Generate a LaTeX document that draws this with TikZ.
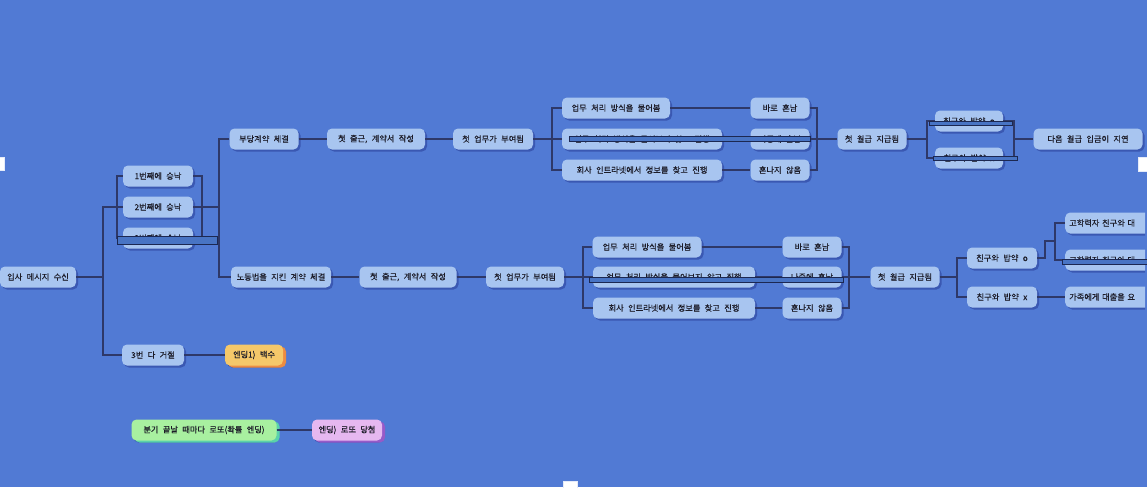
\documentclass[tikz,border=0pt]{standalone}
\usepackage{fontspec}
\newfontfamily\kr[WordSpace=2.4, FakeBold=0.35]{Noto Sans CJK KR}
\usetikzlibrary{shadows}
\definecolor{bg}{RGB}{81,122,212}
\definecolor{nodec}{RGB}{168,197,240}
\definecolor{shd}{RGB}{58,88,178}
\definecolor{linec}{RGB}{46,56,104}
\definecolor{txt}{RGB}{28,28,40}
\definecolor{barc}{RGB}{72,116,196}
\definecolor{barline}{RGB}{28,40,82}
\definecolor{endy}{RGB}{245,200,106}
\definecolor{endyshd}{RGB}{236,140,66}
\definecolor{endg}{RGB}{168,240,160}
\definecolor{endgshd}{RGB}{90,210,170}
\definecolor{endp}{RGB}{230,184,240}
\definecolor{endpshd}{RGB}{150,90,200}
\tikzset{
  box/.style={fill=nodec, rounded corners=5pt, minimum height=21pt, inner sep=0pt, text=txt,
    drop shadow={shadow xshift=2pt, shadow yshift=-2pt, fill=shd, opacity=1}},
  ybox/.style={box, fill=endy, drop shadow={shadow xshift=3pt, shadow yshift=-2pt, fill=endyshd, opacity=1}},
  gbox/.style={box, fill=endg, drop shadow={shadow xshift=3pt, shadow yshift=-2pt, fill=endgshd, opacity=1}},
  pbox/.style={box, fill=endp, drop shadow={shadow xshift=3pt, shadow yshift=-2pt, fill=endpshd, opacity=1}},
  cutbox/.style={box, anchor=west, text width=110pt, align=left, inner xsep=4pt},
  conn/.style={draw=linec, line width=1.4pt},
  selbar/.style={fill=barc, draw=barline, line width=0.9pt},
  handle/.style={fill=white, draw=white!85!bg, line width=0.8pt}
}
\begin{document}
\begin{tikzpicture}[x=1pt,y=-1pt, font=\kr\fontsize{8.2}{9}\selectfont]
\fill[bg] (0,0) rectangle (1147,487);
\useasboundingbox (0,0) rectangle (1147,487);

% junction coordinates
\coordinate (j0) at (103,277);
\coordinate (k1) at (117,207);
\coordinate (k2) at (202,207);
\coordinate (j1) at (219,207);
\coordinate (j2) at (552,139);
\coordinate (j3) at (817,139);
\coordinate (j4) at (927,139);
\coordinate (j5) at (1014,139);
\coordinate (j6) at (583,277);
\coordinate (j7) at (849,277);
\coordinate (j8) at (957,277);
\coordinate (j9) at (1045,241);
\coordinate (j10) at (1055,241);

\begin{scope}
\clip (0,0) rectangle (1145,487);
% nodes
\node[box, minimum width=76pt] (n0) at (38,277) {입사 메시지 수신};
\node[box, minimum width=70pt] (a1) at (158,176) {1번째에 승낙};
\node[box, minimum width=70pt] (a2) at (158,207) {2번째에 승낙};
\node[box, minimum width=70pt] (a3) at (158,238) {3번째에 승낙};
\node[box, minimum width=62pt] (r) at (153,355) {3번 다 거절};
\node[ybox, minimum width=58pt] (e1) at (254,355) {엔딩1) 백수};

\node[box, minimum width=69pt] (b1) at (264,139) {부당계약 체결};
\node[box, minimum width=98pt] (b2) at (376,139) {첫 출근, 계약서 작성};
\node[box, minimum width=80pt] (b3) at (493,139) {첫 업무가 부여됨};
\node[box, minimum width=108pt] (c1) at (616,108) {업무 처리 방식을 물어봄};
\node[box, minimum width=160pt] (c2) at (642,139) {업무 처리 방식을 물어보지 않고 진행};
\node[box, minimum width=160pt] (c3) at (642,170) {회사 인트라넷에서 정보를 찾고 진행};
\node[box, minimum width=59pt] (d1) at (780,108) {바로 혼남};
\node[box, minimum width=59pt] (d2) at (780,139) {나중에 혼남};
\node[box, minimum width=59pt] (d3) at (780,170) {혼나지 않음};
\node[box, minimum width=69pt] (f1) at (872,139) {첫 월급 지급됨};
\node[box, minimum width=68pt] (g1) at (969,121) {친구와 밥약 o};
\node[box, minimum width=68pt] (g2) at (969,158) {친구와 밥약 x};
\node[box, minimum width=109pt] (h1) at (1088,139) {다음 월급 입금이 지연};

\node[box, minimum width=100pt] (B1) at (281,277) {노동법을 지킨 계약 체결};
\node[box, minimum width=97pt] (B2) at (408,277) {첫 출근, 계약서 작성};
\node[box, minimum width=78pt] (B3) at (525,277) {첫 업무가 부여됨};
\node[box, minimum width=109pt] (C1) at (647,247) {업무 처리 방식을 물어봄};
\node[box, minimum width=162pt] (C2) at (674,277) {업무 처리 방식을 물어보지 않고 진행};
\node[box, minimum width=162pt] (C3) at (674,308) {회사 인트라넷에서 정보를 찾고 진행};
\node[box, minimum width=59pt] (D1) at (812,247) {바로 혼남};
\node[box, minimum width=59pt] (D2) at (812,277) {나중에 혼남};
\node[box, minimum width=59pt] (D3) at (812,308) {혼나지 않음};
\node[box, minimum width=69pt] (F1) at (905,277) {첫 월급 지급됨};
\node[box, minimum width=70pt] (G1) at (1002,258) {친구와 밥약 o};
\node[box, minimum width=70pt] (G2) at (1002,297) {친구와 밥약 x};
\node[cutbox] (H1) at (1065,223) {고학력자 친구와 대};
\node[cutbox] (H2) at (1065,260) {고학력자 친구와 대};
\node[cutbox] (H3) at (1065,297) {가족에게 대출을 요};

\node[gbox, minimum width=145pt] (L1) at (204,430) {분기 끝날 때마다 로또(확률 엔딩)};
\node[pbox, minimum width=70pt] (L2) at (347,430) {엔딩) 로또 당첨};
\end{scope}

\begin{scope}[conn]
\draw (n0.east) -- (j0);
\draw (a2.west) -| (j0) |- (r.west);
\draw (a1.west) -| (k1) |- (a3.west);
\draw (a1.east) -| (k2) |- (a3.east);
\draw (a2.east) -- (j1);
\draw (b1.west) -| (j1) |- (B1.west);
\draw (r.east) -- (e1.west);
\draw (b1.east) -- (b2.west);
\draw (b2.east) -- (b3.west);
\draw (b3.east) -- (c2.west);
\draw (c1.west) -| (j2) |- (c3.west);
\draw (c1.east) -- (d1.west);
\draw (c2.east) -- (d2.west);
\draw (c3.east) -- (d3.west);
\draw (d1.east) -| (j3) |- (d3.east);
\draw (d2.east) -- (f1.west);
\draw (f1.east) -- (j4);
\draw (g1.west) -| (j4) |- (g2.west);
\draw (g1.east) -| (j5) |- (g2.east);
\draw (j5) -- (h1.west);
\draw (B1.east) -- (B2.west);
\draw (B2.east) -- (B3.west);
\draw (B3.east) -- (C2.west);
\draw (C1.west) -| (j6) |- (C3.west);
\draw (C1.east) -- (D1.west);
\draw (C2.east) -- (D2.west);
\draw (C3.east) -- (D3.west);
\draw (D1.east) -| (j7) |- (D3.east);
\draw (D2.east) -- (F1.west);
\draw (F1.east) -- (j8);
\draw (G1.west) -| (j8) |- (G2.west);
\draw (G1.east) -| (j9) -- (j10);
\draw (H1.west) -| (j10) |- (H2.west);
\draw (G2.east) -- (H3.west);
\draw (L1.east) -- (L2.west);
\end{scope}

% selection bars
\draw[selbar] (117,236) rectangle (217,244);
\draw[selbar] (569,136.5) rectangle (810,141);
\draw[selbar] (929,121) rectangle (1012,125);
\draw[selbar] (933,156) rectangle (1017,160);
\draw[selbar] (589,277) rectangle (843,282);
\draw[selbar] (1062,259) rectangle (1147,264);

% handles
\draw[handle] (-3,157) rectangle (4,170);
\draw[handle] (1138,157) rectangle (1150,171);
\draw[handle] (563,481) rectangle (577,490);
\end{tikzpicture}
\end{document}
